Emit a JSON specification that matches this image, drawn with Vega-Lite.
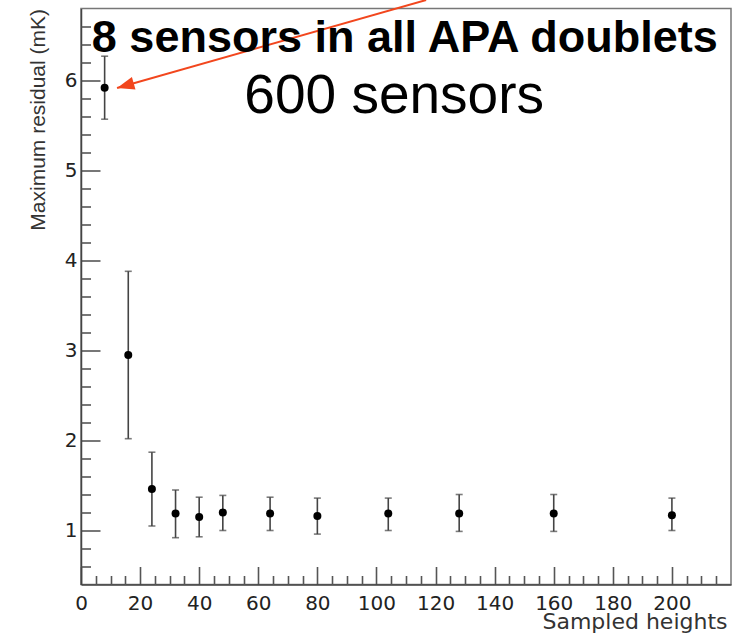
{
  "$schema": "https://vega.github.io/schema/vega-lite/v6.json",
  "autosize": "none",
  "width": 650,
  "height": 576,
  "padding": {"left": 81, "top": 8.5, "right": 5, "bottom": 49.5},
  "background": "white",
  "config": {
    "view": {"stroke": "#777", "strokeWidth": 1.5},
    "axis": {
      "labelFont": "DejaVu Sans",
      "labelFontSize": 20,
      "labelColor": "#222",
      "titleFont": "Liberation Sans",
      "titleFontWeight": "normal",
      "titleColor": "#333",
      "domainColor": "#444",
      "domainWidth": 1.5,
      "tickColor": "#555",
      "tickWidth": 1.6,
      "labelOverlap": false,
      "labelBound": false,
      "labelFlush": false,
      "grid": false
    }
  },
  "resolve": {"axis": {"x": "independent", "y": "independent"}},
  "datasets": {
    "points": [
      {"heights": 8, "residual": 5.92, "lo": 5.57, "hi": 6.27},
      {"heights": 16, "residual": 2.95, "lo": 2.02, "hi": 3.88},
      {"heights": 24, "residual": 1.46, "lo": 1.05, "hi": 1.87},
      {"heights": 32, "residual": 1.19, "lo": 0.92, "hi": 1.45},
      {"heights": 40, "residual": 1.15, "lo": 0.93, "hi": 1.37},
      {"heights": 48, "residual": 1.2, "lo": 1.0, "hi": 1.39},
      {"heights": 64, "residual": 1.19, "lo": 1.0, "hi": 1.37},
      {"heights": 80, "residual": 1.16, "lo": 0.96, "hi": 1.36},
      {"heights": 104, "residual": 1.19, "lo": 1.0, "hi": 1.36},
      {"heights": 128, "residual": 1.19, "lo": 0.99, "hi": 1.4},
      {"heights": 160, "residual": 1.19, "lo": 0.99, "hi": 1.4},
      {"heights": 200, "residual": 1.17, "lo": 1.0, "hi": 1.36}
    ],
    "arrow": [
      {"x0": 116.8, "y0": 6.894, "x1": 12.2, "y1": 5.916}
    ],
    "notes": [
      {"text": "8 sensors in all APA doublets", "x": 109.6, "y": 6.317, "kind": "bold"},
      {"text": "600 sensors", "x": 106.0, "y": 5.639, "kind": "plain"}
    ]
  },
  "layer": [
    {
      "data": {"name": "points"},
      "mark": {"type": "rule", "color": "#444", "strokeWidth": 1.6},
      "encoding": {
        "x": {
          "field": "heights", "type": "quantitative",
          "scale": {"domain": [0, 220], "nice": false, "zero": false},
          "axis": {
            "orient": "bottom",
            "title": "Sampled heights",
            "titleFont": "DejaVu Sans",
            "titleFontSize": 22,
            "titleAlign": "right",
            "titleBaseline": "alphabetic",
            "titleX": 646,
            "titleY": 44,
            "values": [0,20,40,60,80,100,120,140,160,180,200],
            "format": "d",
            "tickCount": 100,
            "tickSize": -18,
            "labelPadding": 27
          }
        },
        "y": {
          "field": "lo", "type": "quantitative",
          "scale": {"domain": [0.4, 6.8], "nice": false, "zero": false},
          "axis": {
            "orient": "left",
            "title": "Maximum residual (mK)",
            "titleFontSize": 21,
            "titleAngle": -90,
            "titleAlign": "right",
            "titleBaseline": "alphabetic",
            "titleX": -37,
            "titleY": 0,
            "values": [1,2,3,4,5,6],
            "format": "d",
            "tickCount": 100,
            "tickSize": -19,
            "labelPadding": 23
          }
        },
        "y2": {"field": "hi"}
      }
    },
    {
      "data": {"name": "points"},
      "mark": {"type": "tick", "orient": "horizontal", "color": "#444", "size": 7, "thickness": 1.6},
      "encoding": {
        "x": {
          "field": "heights", "type": "quantitative",
          "axis": {
            "orient": "bottom",
            "title": null,
            "labels": false,
            "domain": false,
            "values": [5,10,15,25,30,35,45,50,55,65,70,75,85,90,95,105,110,115,125,130,135,145,150,155,165,170,175,185,190,195,205,210,215],
            "tickCount": 100,
            "tickSize": -9
          }
        },
        "y": {
          "field": "lo", "type": "quantitative",
          "axis": {
            "orient": "left",
            "title": null,
            "labels": false,
            "domain": false,
            "values": [0.6,0.8,1.2,1.4,1.6,1.8,2.2,2.4,2.6,2.8,3.2,3.4,3.6,3.8,4.2,4.4,4.6,4.8,5.2,5.4,5.6,5.8,6.2,6.4,6.6],
            "tickCount": 100,
            "tickSize": -9.5
          }
        }
      }
    },
    {
      "data": {"name": "points"},
      "mark": {"type": "tick", "orient": "horizontal", "color": "#444", "size": 7, "thickness": 1.6},
      "encoding": {
        "x": {"field": "heights", "type": "quantitative", "axis": null},
        "y": {"field": "hi", "type": "quantitative", "axis": null}
      }
    },
    {
      "data": {"name": "points"},
      "mark": {"type": "point", "shape": "circle", "filled": true, "color": "#000", "size": 64, "opacity": 1},
      "encoding": {
        "x": {"field": "heights", "type": "quantitative", "axis": null},
        "y": {"field": "residual", "type": "quantitative", "axis": null}
      }
    },
    {
      "data": {"name": "arrow"},
      "mark": {"type": "rule", "color": "#f2461d", "strokeWidth": 2},
      "encoding": {
        "x": {"field": "x0", "type": "quantitative", "axis": null},
        "y": {"field": "y0", "type": "quantitative", "axis": null},
        "x2": {"field": "x1"},
        "y2": {"field": "y1"}
      }
    },
    {
      "data": {"name": "arrow"},
      "mark": {"type": "point", "shape": "M0,0 L2,-0.75 L2,0.75 Z", "filled": true, "color": "#f2461d", "size": 300, "angle": 344, "opacity": 1, "strokeWidth": 0},
      "encoding": {
        "x": {"field": "x1", "type": "quantitative", "axis": null},
        "y": {"field": "y1", "type": "quantitative", "axis": null}
      }
    },
    {
      "data": {"name": "notes"},
      "transform": [{"filter": "datum.kind === 'bold'"}],
      "mark": {"type": "text", "font": "Liberation Sans", "fontWeight": "bold", "fontSize": 45, "align": "center", "baseline": "alphabetic", "color": "#000"},
      "encoding": {
        "x": {"field": "x", "type": "quantitative", "axis": null},
        "y": {"field": "y", "type": "quantitative", "axis": null},
        "text": {"field": "text"}
      }
    },
    {
      "data": {"name": "notes"},
      "transform": [{"filter": "datum.kind === 'plain'"}],
      "mark": {"type": "text", "font": "Liberation Sans", "fontWeight": "normal", "fontSize": 55, "align": "center", "baseline": "alphabetic", "color": "#000"},
      "encoding": {
        "x": {"field": "x", "type": "quantitative", "axis": null},
        "y": {"field": "y", "type": "quantitative", "axis": null},
        "text": {"field": "text"}
      }
    }
  ]
}
